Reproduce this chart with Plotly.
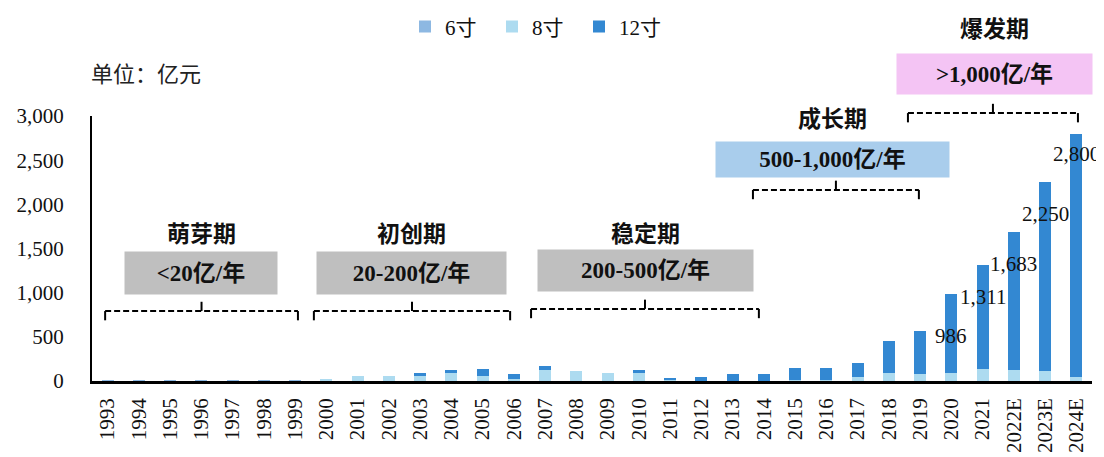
import plotly.graph_objects as go

years = [str(y) for y in range(1993, 2022)] + ["2022E", "2023E", "2024E"]

# 亿元, stacked bottom -> top
wafer_6 = [1, 1, 1, 1, 1, 1, 1,
           3, 4, 4, 4, 5, 5, 3, 4, 4, 4, 4,
           0, 0, 0, 0, 0, 0, 0, 0, 0, 0, 0, 0, 0, 0]
wafer_8 = [0, 0, 0, 0, 0, 0, 0,
           25, 58, 58, 54, 80, 53, 25, 115, 104, 85, 81,
           8, 5, 5, 5, 10, 10, 43, 94, 79, 94, 140, 125, 110, 49]
wafer_12 = [0, 0, 0, 0, 0, 0, 0,
            0, 0, 0, 30, 34, 76, 49, 49, 0, 0, 34,
            24, 42, 72, 72, 139, 139, 163, 355, 487, 892, 1171, 1558, 2140, 2751]

label_years = ["2020", "2021", "2022E", "2023E", "2024E"]
label_values = [986, 1311, 1683, 2250, 2800]

phase_names = ["萌芽期", "初创期", "稳定期", "成长期", "爆发期"]
phase_ranges = ["<20亿/年", "20-200亿/年", "200-500亿/年", "500-1,000亿/年", ">1,000亿/年"]

C6, C8, C12 = "#8DB8E2", "#ADDBF0", "#3388D2"
SERIF = "Liberation Serif, Noto Sans CJK SC"
CJK = "Noto Sans CJK SC, Liberation Serif"

idx = list(range(len(years)))
fig = go.Figure()
for name, vals, col in [("6寸", wafer_6, C6), ("8寸", wafer_8, C8), ("12寸", wafer_12, C12)]:
    fig.add_bar(x=idx, y=vals, name=name, marker=dict(color=col, line_width=0))

# data labels on the last bars
shift = {"2020": -42, "2024E": -20}
for yr, v in zip(label_years, label_values):
    fig.add_annotation(x=years.index(yr), y=v, xref="x", yref="y", text=f"{v:,}", showarrow=False,
                       xanchor="center", yanchor="middle", yshift=shift.get(yr, -32),
                       font=dict(family=SERIF, size=21, color="#111"))

# phase layout: centre (category index), title y, box y, box w, box h, box colour, bracket span, bracket y
phases = [
    (3.0, 0.562, 0.408, 150, 40, "#BFBFBF", (-0.08, 6.09), 0.264),
    (9.72, 0.562, 0.408, 187, 40, "#BFBFBF", (6.6, 12.88), 0.264),
    (17.2, 0.562, 0.417, 213, 39, "#BFBFBF", (13.55, 20.84), 0.272),
    (23.2, 0.996, 0.836, 231, 33, "#A9CDEC", (20.65, 25.96), 0.721),
    (28.38, 1.336, 1.158, 193, 38, "#F4C4F4", (25.61, 31.05), 1.011),
]
for (cx, ty, by, bw, bh, bc, (x0, x1), ly), nm, rg in zip(phases, phase_names, phase_ranges):
    fig.add_annotation(x=cx, y=ty, xref="x", yref="paper", text=f"<b>{nm}</b>", showarrow=False,
                       xanchor="center", yanchor="middle",
                       font=dict(family=CJK, size=23, color="#111"))
    fig.add_annotation(x=cx, y=by, xref="x", yref="paper", text=f"<b>{rg}</b>", showarrow=False,
                       xanchor="center", yanchor="middle",
                       width=bw, height=bh, bgcolor=bc, valign="middle",
                       font=dict(family=SERIF, size=23, color="#111"))
    mid = (x0 + x1) / 2
    fig.add_shape(type="line", xref="x", yref="paper", x0=x0, x1=x1, y0=ly, y1=ly,
                  line=dict(color="black", width=2, dash="6px,3px"))
    for xe in (x0, x1):
        fig.add_shape(type="line", xref="x", yref="paper", x0=xe, x1=xe, y0=ly, y1=ly - 0.035,
                      line=dict(color="black", width=2))
    fig.add_shape(type="line", xref="x", yref="paper", x0=mid, x1=mid, y0=ly, y1=ly + 0.035,
                  line=dict(color="black", width=2))

fig.add_annotation(x=0.054, y=1.166, xref="paper", yref="paper", text="单位：亿元", showarrow=False,
                   xanchor="center", yanchor="middle",
                   font=dict(family=CJK, size=22, color="#222"))

# the page body adds an 8px offset, so margins are shifted to compensate
fig.update_layout(
    width=1104, height=457, barmode="stack", bargap=0.62,
    margin=dict(l=84, r=20, t=108, b=84, autoexpand=False),
    plot_bgcolor="white", paper_bgcolor="white",
    font=dict(family=SERIF, size=21, color="#111"),
    legend=dict(orientation="h", x=0.313, xanchor="left", y=1.336, yanchor="middle",
                font=dict(family=SERIF, size=21), entrywidth=42, traceorder="normal"),
    xaxis=dict(range=[-0.5, len(years) - 0.5], tickvals=idx, ticktext=years, tickangle=-90,
               showline=True, linecolor="black", linewidth=2.5, automargin=False,
               showgrid=False, zeroline=False, ticks="", tickfont=dict(family=SERIF, size=21),
               ticklabelstandoff=6),
    yaxis=dict(range=[0, 3000], tickvals=[0, 500, 1000, 1500, 2000, 2500, 3000], tickformat=",d",
               showline=True, linecolor="black", linewidth=2, showgrid=False, zeroline=False,
               automargin=False, ticks="", tickfont=dict(family=SERIF, size=21), ticklabelstandoff=22),
    showlegend=True,
)

fig.write_html("out.html")
